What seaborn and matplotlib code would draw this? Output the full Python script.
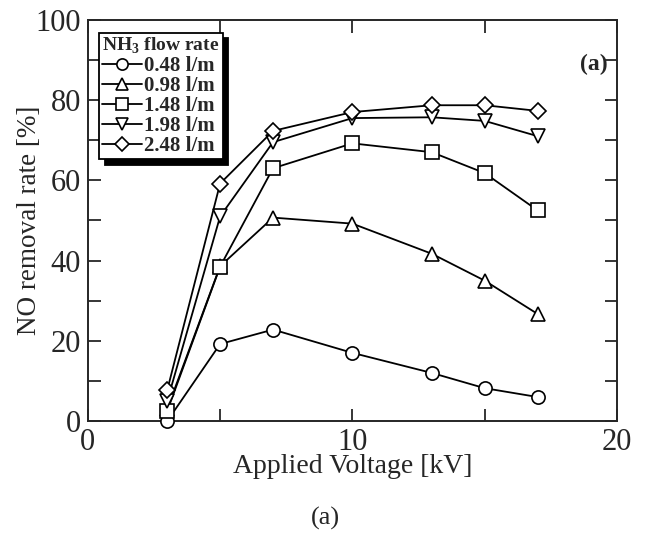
import matplotlib
matplotlib.use("Agg")
import matplotlib.pyplot as plt
import pandas as pd
import seaborn as sns
from matplotlib.ticker import MultipleLocator

# Data
voltage = [3, 5, 7, 10, 13, 15, 17]
flow_labels = ["0.48 l/m", "0.98 l/m", "1.48 l/m", "1.98 l/m", "2.48 l/m"]
removal_048 = [0, 19.2, 22.8, 17, 12, 8.2, 6]
removal_098 = [3, 38.6, 50.7, 49.2, 41.7, 35, 26.7]
removal_148 = [2.5, 38.5, 63, 69.2, 67, 61.8, 52.5]
removal_198 = [5, 51, 69.5, 75.5, 75.7, 74.8, 71]
removal_248 = [7.7, 59.2, 72.3, 77, 78.7, 78.7, 77.3]
series = [removal_048, removal_098, removal_148, removal_198, removal_248]
markers = ["o", "^", "s", "v", "D"]

sns.set_style("ticks")
plt.rcParams["font.family"] = ["Liberation Serif", "DejaVu Serif"]
plt.rcParams["mathtext.fontset"] = "custom"
plt.rcParams["mathtext.rm"] = "Liberation Serif"
plt.rcParams["mathtext.bf"] = "Liberation Serif:bold"

fig = plt.figure(figsize=(6.46, 5.49), dpi=100)
ax = fig.add_axes([0.136, 0.233, 0.819, 0.731])

for lab, vals, m in zip(flow_labels, series, markers):
    df = pd.DataFrame({"voltage": voltage, "removal": vals})
    ms = 8.5 if m == "D" else 10 if m in ("^", "v") else 9.5
    sns.lineplot(data=df, x="voltage", y="removal", ax=ax, color="black",
                 marker=m, markersize=ms, markerfacecolor="white",
                 markeredgecolor="black", markeredgewidth=1.2,
                 linewidth=1.3, label=lab, clip_on=False, zorder=3)

ax.set_xlim(0, 20)
ax.set_ylim(0, 100)
ax.xaxis.set_major_locator(MultipleLocator(10))
ax.xaxis.set_minor_locator(MultipleLocator(5))
ax.yaxis.set_major_locator(MultipleLocator(20))
ax.yaxis.set_minor_locator(MultipleLocator(10))
ax.tick_params(which="both", direction="in", top=True, right=True,
               width=1.3, labelsize=22, pad=5)
ax.tick_params(which="both", length=9)
for s in ax.spines.values():
    s.set_linewidth(1.4)

ax.set_xlabel("Applied Voltage [kV]", fontsize=20, labelpad=-2)
ax.set_ylabel("NO removal rate [%]", fontsize=19.5, labelpad=-5)

leg = ax.legend(title=r"NH$_{\mathbf{3}}$ flow rate", loc="upper left",
                bbox_to_anchor=(0.021, 0.968), borderaxespad=0,
                prop={"weight": "bold", "size": 15},
                title_fontproperties={"weight": "bold", "size": 14},
                frameon=True, fancybox=False, edgecolor="black",
                shadow={"color": "black", "ox": 4, "oy": -4, "alpha": 1},
                handlelength=1.9, handletextpad=0.1, labelspacing=0.0,
                borderpad=0.15, markerscale=0.85)
leg.get_frame().set_linewidth(1.3)
leg._legend_box.align = "left"

ax.text(0.983, 0.888, "(a)", transform=ax.transAxes, fontsize=17,
        fontweight="bold", ha="right", va="center")
fig.text(0.503, 0.055, "(a)", fontsize=19, ha="center", va="center")

fig.savefig("out.png", dpi=100)
